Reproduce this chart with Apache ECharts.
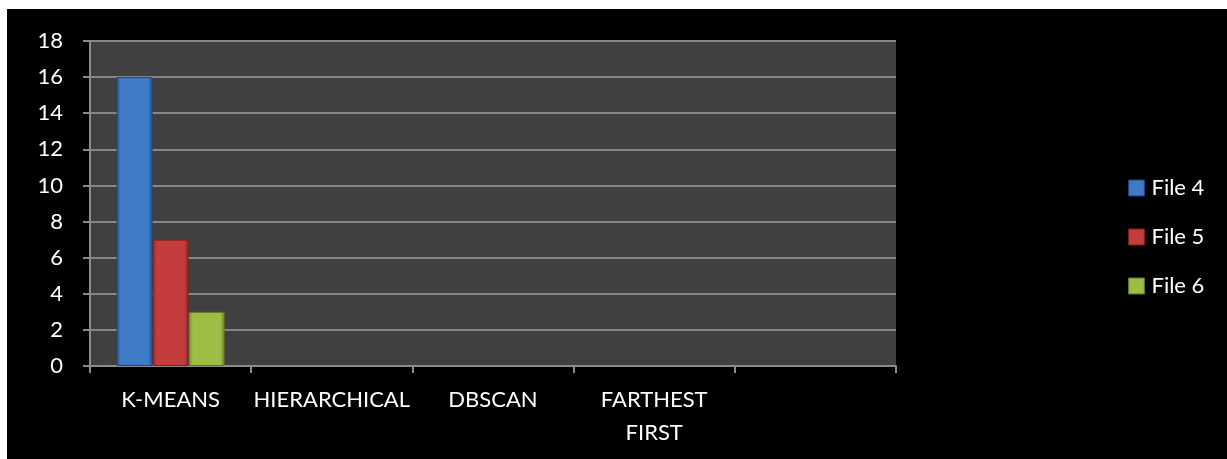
<!DOCTYPE html>
<html>
<head>
<meta charset="utf-8">
<script src="https://cdn.jsdelivr.net/npm/echarts@6/dist/echarts.min.js"></script>
<style>
html,body{margin:0;padding:0;background:#fff;width:1227px;height:459px;overflow:hidden;}
#wrap{position:absolute;left:7px;top:9px;width:1220px;height:450px;background:#000;}
#chart{width:1220px;height:450px;}
</style>
</head>
<body>
<div id="wrap"><div id="chart"></div></div>
<script>
const categories = ['K-MEANS', 'HIERARCHICAL', 'DBSCAN', 'FARTHEST FIRST', ''];
const seriesNames = ['File 4', 'File 5', 'File 6'];
const file4 = [16, null, null, null, null];
const file5 = [7, null, null, null, null];
const file6 = [3, null, null, null, null];
const yTicks = { min: 0, max: 18, interval: 2 };

function grad(edgeL, mid, edgeR) {
  return new echarts.graphic.LinearGradient(0, 0, 1, 0, [
    { offset: 0, color: edgeL },
    { offset: 0.12, color: mid },
    { offset: 0.5, color: mid },
    { offset: 0.88, color: mid },
    { offset: 1, color: edgeR }
  ]);
}
const colors = [
  grad('#2c5b98', '#3f7bc6', '#27528c'),
  grad('#9a2b2b', '#c43c3b', '#8f2626'),
  grad('#7a9530', '#9dbd45', '#728c2b')
];
const borders = ['#1f4577', '#7a1f1f', '#5f7625'];
const font = 'Lato, "Open Sans", sans-serif';

const chart = echarts.init(document.getElementById('chart'));
const dataSets = [file4, file5, file6];
chart.setOption({
  backgroundColor: '#000',
  animation: false,
  grid: { left: 83, top: 32, right: 331, bottom: 93, show: true, backgroundColor: '#404040', borderWidth: 0 },
  legend: {
    orient: 'vertical', left: 1116, top: 163, padding: 5,
    icon: 'rect',
    itemWidth: 16, itemHeight: 16, itemGap: 27,
    textStyle: { color: '#fff', fontSize: 22, fontFamily: font, lineHeight: 22, padding: [0, 0, 0, 2] },
    data: seriesNames.map((n, i) => ({ name: n, itemStyle: { color: colors[i], borderColor: borders[i], borderWidth: 1 } }))
  },
  xAxis: {
    type: 'category', data: categories, boundaryGap: true,
    axisLine: { lineStyle: { color: '#8c8c8c', width: 2 } },
    axisTick: { show: true, length: 7, lineStyle: { color: '#8c8c8c', width: 2 } },
    axisLabel: {
      color: '#fff', fontSize: 22, fontFamily: font, margin: 17, lineHeight: 33, interval: 0,
      formatter: v => v.replace(' ', '\n')
    }
  },
  yAxis: {
    type: 'value', min: yTicks.min, max: yTicks.max, interval: yTicks.interval,
    axisLine: { show: true, lineStyle: { color: '#8c8c8c', width: 2 } },
    axisTick: { show: true, length: 7, lineStyle: { color: '#8c8c8c', width: 2 } },
    splitLine: { lineStyle: { color: '#868686', width: 2 } },
    axisLabel: { color: '#fff', fontSize: 22, fontFamily: font, margin: 27 }
  },
  series: dataSets.map((d, i) => ({
    name: seriesNames[i], type: 'bar', data: d, barWidth: 36, barGap: '0%',
    itemStyle: { color: colors[i], borderColor: borders[i], borderWidth: 1 }
  }))
});
</script>
</body>
</html>
